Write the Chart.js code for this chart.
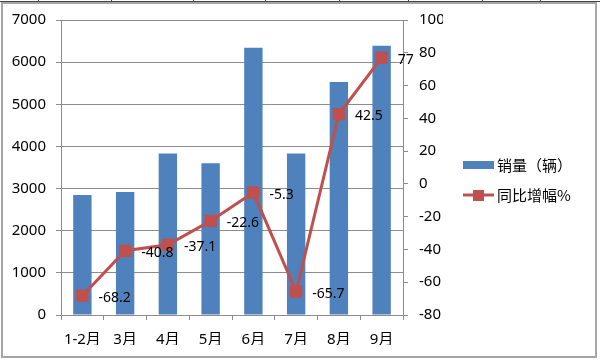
<!DOCTYPE html>
<html>
<head>
<meta charset="utf-8">
<script src="https://cdn.jsdelivr.net/npm/chart.js@4"></script>
<style>
  body { margin: 0; background: #fff; }
  #wrap { position: relative; width: 600px; height: 361px; }
  #frame { position: absolute; left: 1px; top: 2px; width: 592px; height: 352px;
           border: 2px solid #a6a6a6; pointer-events: none; }
  #topline { position: absolute; left: 0; top: 1px; width: 600px; height: 1px;
             background: #444; pointer-events: none; }
  .tick { position: absolute; top: 0; width: 1px; height: 2px; background: #444; }
</style>
</head>
<body>
<div id="wrap">
  <canvas id="salesChart" width="600" height="361"></canvas>
  <div id="frame"></div>
  <div id="topline"></div>
</div>
<script>
  const months = ['1-2月', '3月', '4月', '5月', '6月', '7月', '8月', '9月'];
  const sales = [2850, 2920, 3830, 3600, 6340, 3830, 5530, 6390];
  const growth = [-68.2, -40.8, -37.1, -22.6, -5.3, -65.7, 42.5, 77];
  const salesLabel = '销量（辆）';
  const growthLabel = '同比增幅%';

  const barColor = '#4F81BD';
  const lineColor = '#C0504D';
  const gridColor = '#8c8c8c';

  // little ticks along the top border (table cell edges)
  [38, 111, 193, 265, 339, 408, 482, 540].forEach(function (x) {
    const d = document.createElement('div');
    d.className = 'tick';
    d.style.left = x + 'px';
    document.getElementById('wrap').appendChild(d);
  });

  Chart.defaults.font.family = '"Noto Sans", "Noto Sans CJK SC", sans-serif';
  Chart.defaults.font.size = 14;
  Chart.defaults.color = '#000';

  // value labels next to each line point
  const valueLabels = {
    id: 'valueLabels',
    afterDatasetsDraw(chart) {
      const meta = chart.getDatasetMeta(1);
      const ctx = chart.ctx;
      ctx.save();
      ctx.font = '14px "Noto Sans", sans-serif';
      ctx.fillStyle = '#000';
      ctx.textAlign = 'left';
      ctx.textBaseline = 'middle';
      meta.data.forEach(function (pt, i) {
        ctx.fillText(String(growth[i]), pt.x + 16, pt.y + 2);
      });
      ctx.restore();
    }
  };

  // legend on the right, drawn by hand
  const sideLegend = {
    id: 'sideLegend',
    afterDraw(chart) {
      const ctx = chart.ctx;
      const x = 463;
      ctx.save();
      ctx.fillStyle = barColor;
      ctx.fillRect(x, 161, 31, 8);
      ctx.strokeStyle = lineColor;
      ctx.lineWidth = 3;
      ctx.beginPath();
      ctx.moveTo(x, 195);
      ctx.lineTo(x + 31, 195);
      ctx.stroke();
      ctx.fillStyle = lineColor;
      ctx.fillRect(x + 10, 190, 11, 11);
      ctx.fillStyle = '#000';
      ctx.font = '15px "Noto Sans CJK SC", sans-serif';
      ctx.textBaseline = 'middle';
      ctx.fillText(salesLabel, 497, 165);
      ctx.fillText(growthLabel, 497, 195);
      ctx.restore();
    }
  };

  const plain = function (v) { return String(v); };

  const salesCtx = document.getElementById('salesChart').getContext('2d');
  const salesChart = new Chart(salesCtx, {
    type: 'bar',
    data: {
      labels: months,
      datasets: [{
        type: 'bar',
        label: salesLabel,
        data: sales,
        yAxisID: 'y',
        backgroundColor: barColor,
        borderWidth: 0,
        categoryPercentage: 1,
        barPercentage: 0.43,
        order: 1
      }, {
        type: 'line',
        label: growthLabel,
        data: growth,
        yAxisID: 'y1',
        borderColor: lineColor,
        borderWidth: 3,
        pointStyle: 'rect',
        pointRadius: 8,
        pointBackgroundColor: lineColor,
        pointBorderColor: lineColor,
        pointBorderWidth: 1,
        tension: 0,
        order: 0
      }]
    },
    options: {
      responsive: false,
      animation: false,
      layout: { padding: { left: 0, right: 157, top: 20, bottom: 16 } },
      plugins: {
        legend: { display: false },
        tooltip: { enabled: false }
      },
      scales: {
        x: {
          grid: { drawOnChartArea: false, drawTicks: true, tickLength: 5, color: gridColor, offset: true },
          border: { display: true, color: gridColor },
          ticks: { padding: 11, maxRotation: 0, autoSkip: false, font: { size: 15 } },
          afterFit: function (s) { s.height = 30; }
        },
        y: {
          position: 'left',
          min: 0,
          max: 7000,
          ticks: { stepSize: 1000, padding: 10, callback: plain, font: { size: 15 } },
          grid: { color: gridColor, tickLength: 5 },
          border: { display: true, color: gridColor },
          afterFit: function (s) { s.width = 61; }
        },
        y1: {
          position: 'right',
          min: -80,
          max: 100,
          ticks: { stepSize: 20, padding: 11, callback: plain, font: { size: 15 } },
          grid: { drawOnChartArea: false, tickLength: 5, color: gridColor },
          border: { display: true, color: gridColor },
          afterFit: function (s) { s.width = 40; }
        }
      }
    },
    plugins: [valueLabels, sideLegend]
  });
</script>
</body>
</html>
